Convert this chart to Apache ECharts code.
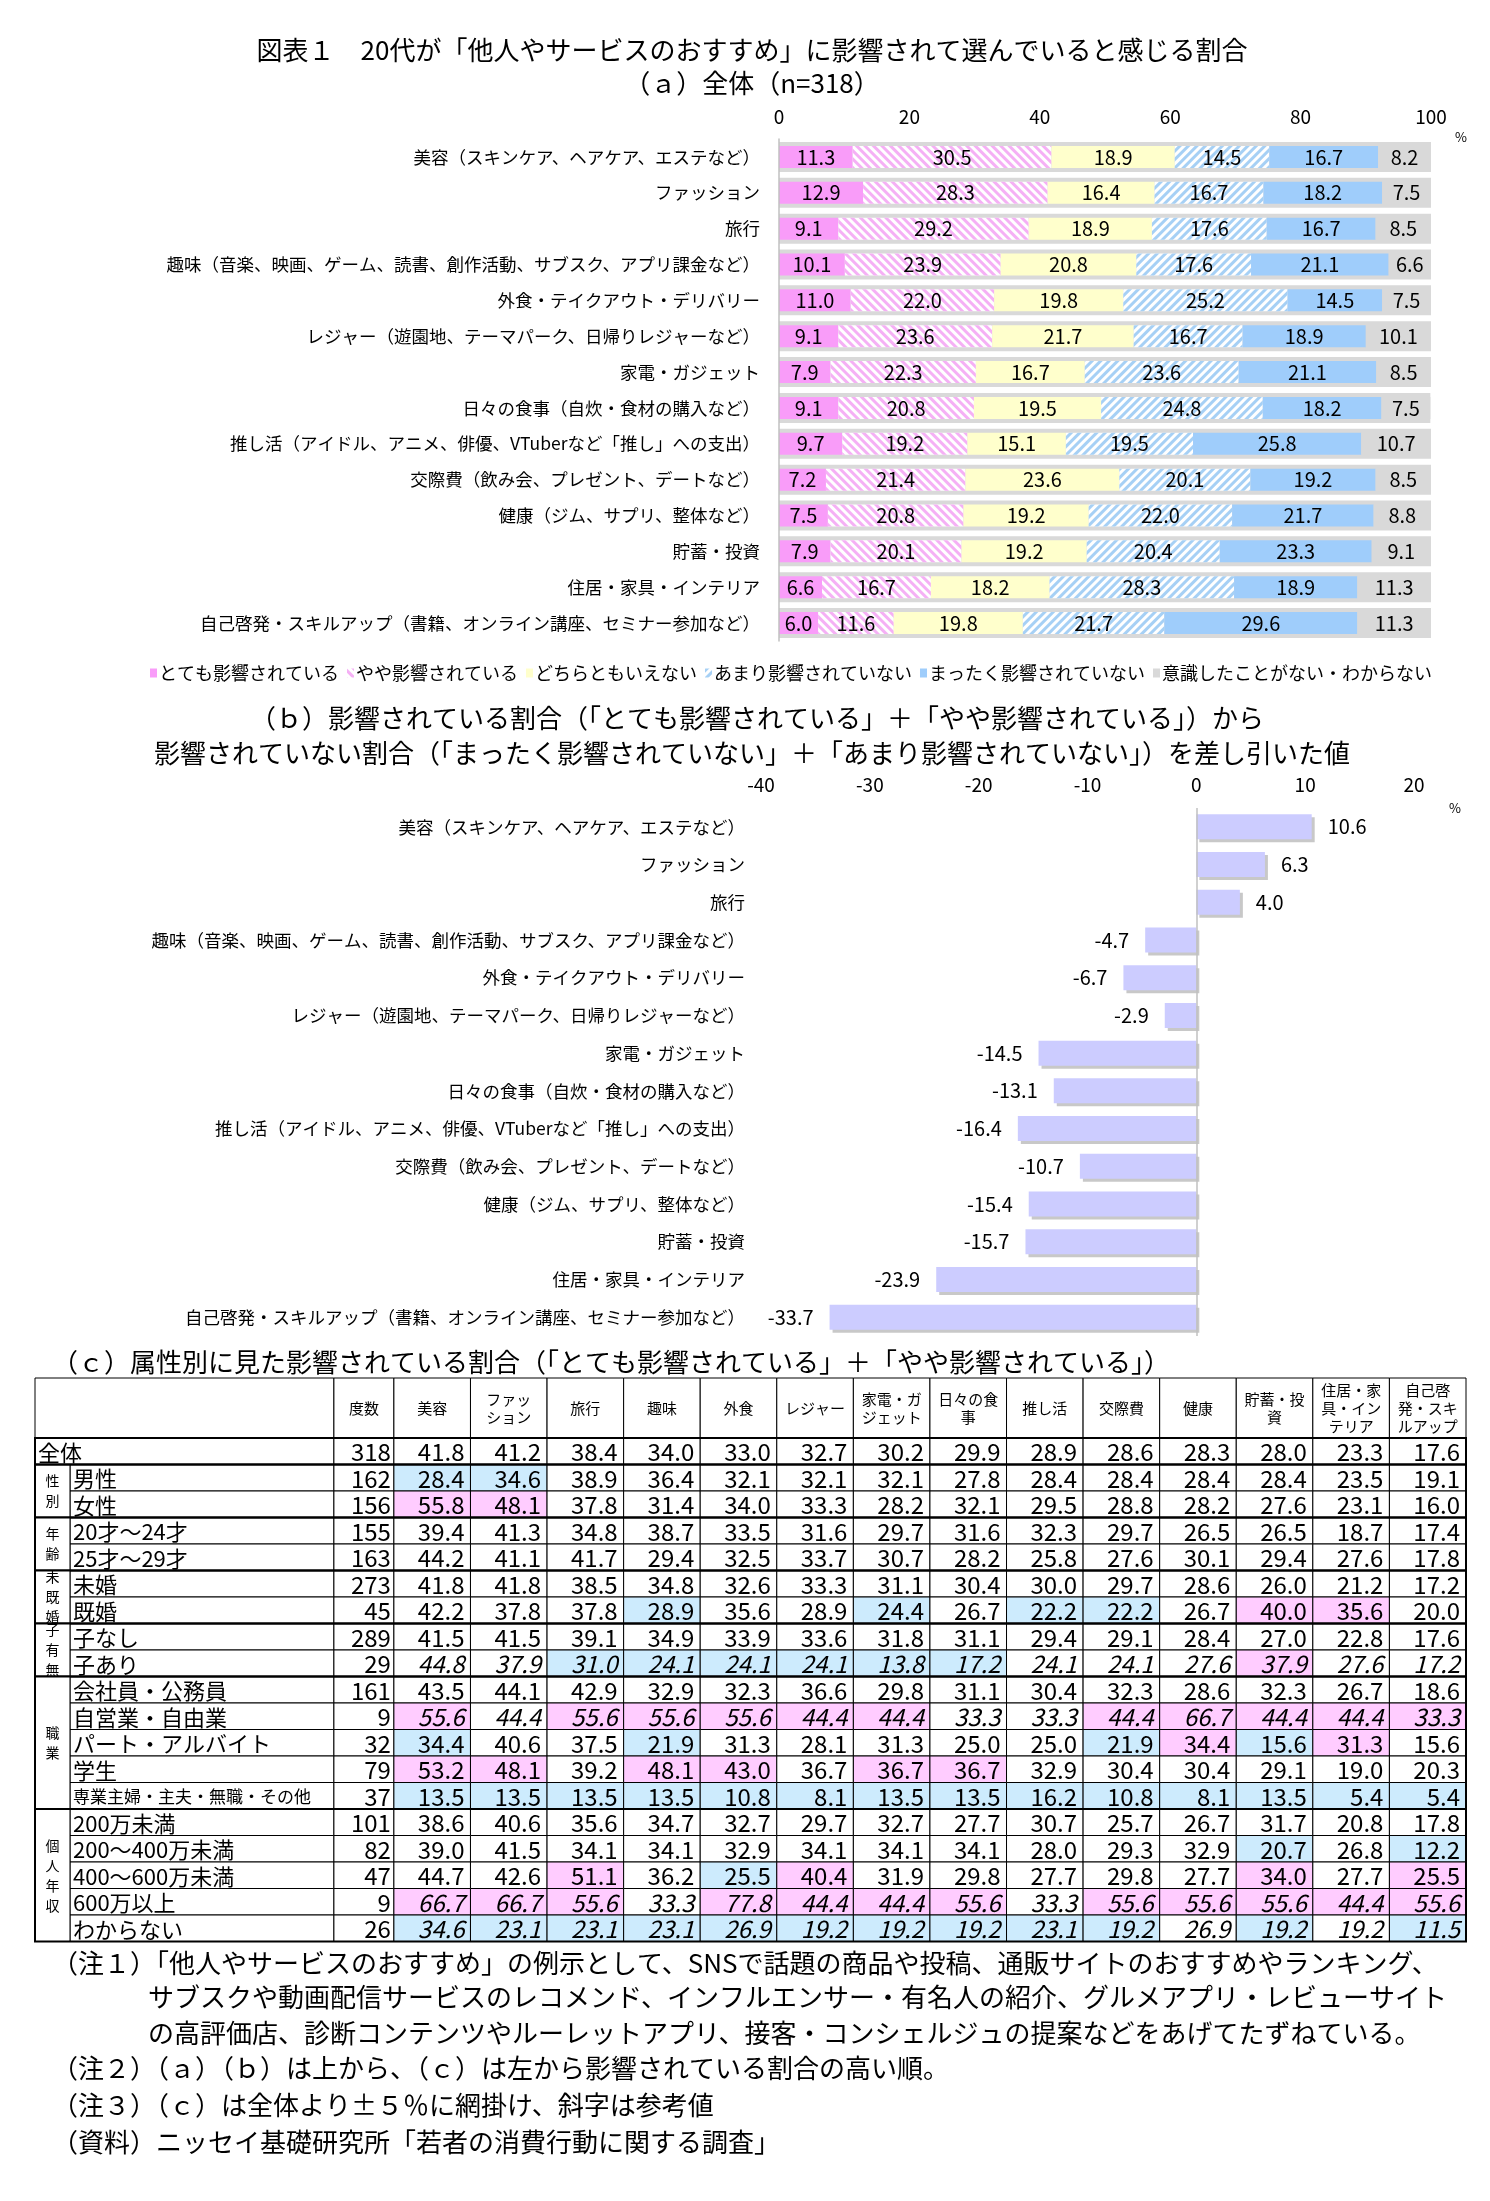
<!DOCTYPE html>
<html><head><meta charset="utf-8">
<script src="https://cdn.jsdelivr.net/npm/echarts@6/dist/echarts.min.js"></script>
<style>html,body{margin:0;padding:0;background:#fff;} #c{width:1490px;height:2201px;}</style>
</head><body><div id="c"></div>
<script>
const FONT = '"Noto Sans CJK JP", "Noto Sans", sans-serif';

// ---------- (a) data ----------
const categories = [
  '美容（スキンケア、ヘアケア、エステなど）',
  'ファッション',
  '旅行',
  '趣味（音楽、映画、ゲーム、読書、創作活動、サブスク、アプリ課金など）',
  '外食・テイクアウト・デリバリー',
  'レジャー（遊園地、テーマパーク、日帰りレジャーなど）',
  '家電・ガジェット',
  '日々の食事（自炊・食材の購入など）',
  '推し活（アイドル、アニメ、俳優、VTuberなど「推し」への支出）',
  '交際費（飲み会、プレゼント、デートなど）',
  '健康（ジム、サプリ、整体など）',
  '貯蓄・投資',
  '住居・家具・インテリア',
  '自己啓発・スキルアップ（書籍、オンライン講座、セミナー参加など）'
];
const legendNames = ['とても影響されている','やや影響されている','どちらともいえない','あまり影響されていない','まったく影響されていない','意識したことがない・わからない'];
const aVery     = [11.3, 12.9, 9.1, 10.1, 11.0, 9.1, 7.9, 9.1, 9.7, 7.2, 7.5, 7.9, 6.6, 6.0];
const aSomewhat = [30.5, 28.3, 29.2, 23.9, 22.0, 23.6, 22.3, 20.8, 19.2, 21.4, 20.8, 20.1, 16.7, 11.6];
const aNeither  = [18.9, 16.4, 18.9, 20.8, 19.8, 21.7, 16.7, 19.5, 15.1, 23.6, 19.2, 19.2, 18.2, 19.8];
const aNotMuch  = [14.5, 16.7, 17.6, 17.6, 25.2, 16.7, 23.6, 24.8, 19.5, 20.1, 22.0, 20.4, 28.3, 21.7];
const aNotAtAll = [16.7, 18.2, 16.7, 21.1, 14.5, 18.9, 21.1, 18.2, 25.8, 19.2, 21.7, 23.3, 18.9, 29.6];
const aUnknown  = [8.2, 7.5, 8.5, 6.6, 7.5, 10.1, 8.5, 7.5, 10.7, 8.5, 8.8, 9.1, 11.3, 11.3];
const aTicks = [0, 20, 40, 60, 80, 100];

// ---------- (b) data ----------
const bNet = [10.6, 6.3, 4.0, -4.7, -6.7, -2.9, -14.5, -13.1, -16.4, -10.7, -15.4, -15.7, -23.9, -33.7];
const bTicks = [-40, -30, -20, -10, 0, 10, 20];

// ---------- (c) data ----------
const tableCols = ['美容','ファッ\nション','旅行','趣味','外食','レジャー','家電・ガ\nジェット','日々の食\n事','推し活','交際費','健康','貯蓄・投\n資','住居・家\n具・イン\nテリア','自己啓\n発・スキ\nルアップ'];
const rowLabels = ['全体','男性','女性','20才～24才','25才～29才','未婚','既婚','子なし','子あり','会社員・公務員','自営業・自由業','パート・アルバイト','学生','専業主婦・主夫・無職・その他','200万未満','200～400万未満','400～600万未満','600万以上','わからない'];
const rowN = [318,162,156,155,163,273,45,289,29,161,9,32,79,37,101,82,47,9,26];
const tableValues = [
  [41.8,41.2,38.4,34.0,33.0,32.7,30.2,29.9,28.9,28.6,28.3,28.0,23.3,17.6],
  [28.4,34.6,38.9,36.4,32.1,32.1,32.1,27.8,28.4,28.4,28.4,28.4,23.5,19.1],
  [55.8,48.1,37.8,31.4,34.0,33.3,28.2,32.1,29.5,28.8,28.2,27.6,23.1,16.0],
  [39.4,41.3,34.8,38.7,33.5,31.6,29.7,31.6,32.3,29.7,26.5,26.5,18.7,17.4],
  [44.2,41.1,41.7,29.4,32.5,33.7,30.7,28.2,25.8,27.6,30.1,29.4,27.6,17.8],
  [41.8,41.8,38.5,34.8,32.6,33.3,31.1,30.4,30.0,29.7,28.6,26.0,21.2,17.2],
  [42.2,37.8,37.8,28.9,35.6,28.9,24.4,26.7,22.2,22.2,26.7,40.0,35.6,20.0],
  [41.5,41.5,39.1,34.9,33.9,33.6,31.8,31.1,29.4,29.1,28.4,27.0,22.8,17.6],
  [44.8,37.9,31.0,24.1,24.1,24.1,13.8,17.2,24.1,24.1,27.6,37.9,27.6,17.2],
  [43.5,44.1,42.9,32.9,32.3,36.6,29.8,31.1,30.4,32.3,28.6,32.3,26.7,18.6],
  [55.6,44.4,55.6,55.6,55.6,44.4,44.4,33.3,33.3,44.4,66.7,44.4,44.4,33.3],
  [34.4,40.6,37.5,21.9,31.3,28.1,31.3,25.0,25.0,21.9,34.4,15.6,31.3,15.6],
  [53.2,48.1,39.2,48.1,43.0,36.7,36.7,36.7,32.9,30.4,30.4,29.1,19.0,20.3],
  [13.5,13.5,13.5,13.5,10.8,8.1,13.5,13.5,16.2,10.8,8.1,13.5,5.4,5.4],
  [38.6,40.6,35.6,34.7,32.7,29.7,32.7,27.7,30.7,25.7,26.7,31.7,20.8,17.8],
  [39.0,41.5,34.1,34.1,32.9,34.1,34.1,34.1,28.0,29.3,32.9,20.7,26.8,12.2],
  [44.7,42.6,51.1,36.2,25.5,40.4,31.9,29.8,27.7,29.8,27.7,34.0,27.7,25.5],
  [66.7,66.7,55.6,33.3,77.8,44.4,44.4,55.6,33.3,55.6,55.6,55.6,44.4,55.6],
  [34.6,23.1,23.1,23.1,26.9,19.2,19.2,19.2,23.1,19.2,26.9,19.2,19.2,11.5]
];
const groupNames = ['性\n別','年\n齢','未\n既\n婚','子\n有\n無','職\n業','個\n人\n年\n収'];
const groupStart = [1,3,5,7,9,14];
const groupEnd   = [2,4,6,8,13,18];

// ---------- styles / layout ----------
const C_VERY = '#f99cf9', C_NEITHER = '#ffffcc', C_NOTALL = '#9fcdfb', C_UNK = '#d9d9d9';
const PINK = '#ffccff', BLUE = '#cdebfd', BAR_B = '#ccccff';
const SHADOW_B = {shadowColor: '#c8c8c8', shadowBlur: 0, shadowOffsetX: 3, shadowOffsetY: 3};
const pinkHatch = {symbol: 'rect', symbolSize: 1, color: '#f5b0f5', dashArrayX: [1, 0], dashArrayY: [3, 3], rotation: Math.PI / 4};
const blueHatch = {symbol: 'rect', symbolSize: 1, color: '#a6d0f5', dashArrayX: [1, 0], dashArrayY: [3, 3], rotation: -Math.PI / 4};

const GRID_A = {left: 779, top: 139, width: 652, height: 502};
const GROUP_U = 35 / 76.6, LABEL_U = 299 / 76.6, COUNT_U = 60 / 76.6;
const TOTAL_U = LABEL_U + COUNT_U + tableCols.length;

function cellRect(api, u0, u1, r0, r1) {
  const h = api.size([0, 1])[1];
  const p0 = api.coord([u0, r0]);
  const p1 = api.coord([u1, r1 === undefined ? r0 : r1]);
  return {x: p0[0], y: p0[1] - h / 2, width: p1[0] - p0[0], height: p1[1] - p0[1] + h};
}

// table data items
const valueData = [];
tableValues.forEach((row, r) => row.forEach((v, c) => {
  const d = v - tableValues[0][c];
  const flag = r === 0 ? 0 : (d >= 4.95 ? 1 : (d <= -4.95 ? -1 : 0));
  valueData.push([c, r, v, flag, rowN[r] < 30 ? 1 : 0]);
}));
const countData = rowN.map((n, r) => [0, r, n]);
const labelData = rowLabels.map((l, r) => [0, r]);
const groupData = groupNames.map((g, i) => [0, groupStart[i], groupEnd[i], i]);
groupData.push([0, 0, 0, -1]);
const headerData = [[-2, 0], [-1, 0]].concat(tableCols.map((t, i) => [i, 0]));

const aSeriesData = [aVery, aSomewhat, aNeither, aNotMuch, aNotAtAll, aUnknown];
const aTotals = categories.map((c, i) => aSeriesData.reduce((s, arr) => s + arr[i], 0));
const aStyles = [
  {color: C_VERY}, {color: '#ffffff', decal: pinkHatch}, {color: C_NEITHER},
  {color: '#ffffff', decal: blueHatch}, {color: C_NOTALL}, {color: C_UNK}
];

const aSeries = aSeriesData.map((arr, i) => ({
  name: legendNames[i], type: 'bar', stack: 'a', xAxisIndex: 0, yAxisIndex: 0,
  barWidth: 22, data: arr, z: 3,
  itemStyle: aStyles[i],
  label: {show: true, position: 'inside', color: '#000', fontSize: 20, fontFamily: FONT,
          formatter: p => Number(p.value).toFixed(1)},
  emphasis: {disabled: true}
}));

const txt = (text, x, y, size, align) => ({
  type: 'text', x: x, y: y, silent: true,
  style: {text: text, fill: '#000', font: size + 'px ' + FONT, align: align || 'left', verticalAlign: 'middle'}
});

const option = {
  backgroundColor: '#fff',
  animation: false,
  textStyle: {fontFamily: FONT},
  legend: {
    left: 145, top: 659, itemWidth: 7, itemHeight: 9, itemGap: 8,
    icon: 'rect', data: legendNames,
    textStyle: {fontSize: 18, color: '#000', fontFamily: FONT, padding: [0, 0, 0, -3]}
  },
  grid: [
    GRID_A,
    {left: 761, top: 808, width: 653, height: 528},
    {left: 35, top: 1378, width: 1431, height: 60},
    {left: 35, top: 1438, width: 1431, height: 503.5},
    Object.assign({}, GRID_A)
  ],
  xAxis: [
    {gridIndex: 0, type: 'value', position: 'top', min: aTicks[0], max: aTicks[aTicks.length - 1], interval: aTicks[1] - aTicks[0],
     axisLine: {show: false}, axisTick: {show: false}, splitLine: {show: false},
     axisLabel: {fontSize: 19, color: '#000', margin: 13, fontFamily: FONT}},
    {gridIndex: 1, type: 'value', position: 'top', min: bTicks[0], max: bTicks[bTicks.length - 1], interval: bTicks[1] - bTicks[0],
     axisLine: {show: false}, axisTick: {show: false}, splitLine: {show: false},
     axisLabel: {fontSize: 19, color: '#000', margin: 14, fontFamily: FONT}},
    {gridIndex: 2, type: 'value', min: 0, max: TOTAL_U, show: false},
    {gridIndex: 3, type: 'value', min: 0, max: TOTAL_U, show: false},
    {gridIndex: 4, type: 'value', min: aTicks[0], max: aTicks[aTicks.length - 1], show: false}
  ],
  yAxis: [
    {gridIndex: 0, type: 'category', data: categories, inverse: true, z: 4,
     axisLine: {lineStyle: {color: '#c0c0c0', width: 1.5}}, axisTick: {show: false},
     axisLabel: {fontSize: 17.5, color: '#000', margin: 19, fontFamily: FONT}},
    {gridIndex: 1, type: 'category', data: categories, inverse: true,
     axisLine: {show: false, onZero: false}, axisTick: {show: false},
     axisLabel: {fontSize: 17.5, color: '#000', margin: 16, fontFamily: FONT}},
    {gridIndex: 2, type: 'category', data: ['h'], show: false},
    {gridIndex: 3, type: 'category', data: rowLabels, inverse: true, show: false},
    {gridIndex: 4, type: 'category', data: categories, inverse: true, show: false}
  ],
  series: [
    {
      name: 'bg', type: 'bar', xAxisIndex: 4, yAxisIndex: 4, barWidth: 30, z: 1,
      data: aTotals, itemStyle: {color: C_UNK}, silent: true, emphasis: {disabled: true}
    }
  ].concat(aSeries).concat([
    {
      name: 'net', type: 'bar', xAxisIndex: 1, yAxisIndex: 1, barWidth: 25,
      data: bNet.map(v => ({value: v, label: {position: v >= 0 ? 'right' : 'left'}})),
      itemStyle: Object.assign({color: BAR_B}, SHADOW_B),
      label: {show: true, color: '#000', fontSize: 20, distance: 16, fontFamily: FONT,
              formatter: p => Number(p.value).toFixed(1)},
      emphasis: {disabled: true},
      markLine: {silent: true, symbol: ['none', 'none'], label: {show: false},
                 lineStyle: {color: '#c0c0c0', width: 1.5, type: 'solid'}, data: [{xAxis: 0}]}
    },
    {
      name: 'header', type: 'custom', xAxisIndex: 2, yAxisIndex: 2, data: headerData, encode: {x: 0, y: 1},
      renderItem: (params, api) => {
        const i = api.value(0);
        let u0, u1, t;
        if (i === -2) { u0 = 0; u1 = LABEL_U; t = ''; }
        else if (i === -1) { u0 = LABEL_U; u1 = LABEL_U + COUNT_U; t = '度数'; }
        else { u0 = LABEL_U + COUNT_U + i; u1 = u0 + 1; t = tableCols[i]; }
        const r = cellRect(api, u0, u1, 0);
        return {type: 'group', children: [
          {type: 'rect', shape: r, style: {fill: '#fff', stroke: '#000', lineWidth: 1}},
          {type: 'text', x: r.x + r.width / 2, y: r.y + r.height / 2,
           style: {text: t, fill: '#000', font: '15px ' + FONT, align: 'center', verticalAlign: 'middle', lineHeight: 18}}
        ]};
      }
    },
    {
      name: 'labels', type: 'custom', xAxisIndex: 3, yAxisIndex: 3, data: labelData, encode: {x: 0, y: 1},
      renderItem: (params, api) => {
        const row = api.value(1);
        const u0 = row === 0 ? 0 : GROUP_U;
        const r = cellRect(api, u0, LABEL_U, row);
        const lab = rowLabels[row];
        const fs = lab.length > 10 ? 17 : 22;
        return {type: 'group', children: [
          {type: 'rect', shape: r, style: {fill: '#fff', stroke: '#000', lineWidth: 1}},
          {type: 'text', x: r.x + 3, y: r.y + r.height / 2 + 1,
           style: {text: lab, fill: '#000', font: fs + 'px ' + FONT, align: 'left', verticalAlign: 'middle'}}
        ]};
      }
    },
    {
      name: 'counts', type: 'custom', xAxisIndex: 3, yAxisIndex: 3, data: countData, encode: {x: 0, y: 1},
      renderItem: (params, api) => {
        const row = api.value(1);
        const r = cellRect(api, LABEL_U, LABEL_U + COUNT_U, row);
        return {type: 'group', children: [
          {type: 'rect', shape: r, style: {fill: '#fff', stroke: '#000', lineWidth: 1}},
          {type: 'text', x: r.x + r.width - 3, y: r.y + r.height / 2 + 1,
           style: {text: String(api.value(2)), fill: '#000', font: '24px ' + FONT, align: 'right', verticalAlign: 'middle'}}
        ]};
      }
    },
    {
      name: 'values', type: 'custom', xAxisIndex: 3, yAxisIndex: 3, data: valueData, encode: {x: 0, y: 1},
      renderItem: (params, api) => {
        const col = api.value(0), row = api.value(1), v = api.value(2), flag = api.value(3), it = api.value(4);
        const u0 = LABEL_U + COUNT_U + col;
        const r = cellRect(api, u0, u0 + 1, row);
        return {type: 'group', children: [
          {type: 'rect', shape: r, style: {fill: flag > 0 ? PINK : (flag < 0 ? BLUE : '#fff'), stroke: '#000', lineWidth: 1}},
          {type: 'text', x: r.x + r.width - 6, y: r.y + r.height / 2 + 1,
           style: {text: Number(v).toFixed(1), fill: '#000', font: (it ? 'italic ' : '') + '24px ' + FONT, align: 'right', verticalAlign: 'middle'}}
        ]};
      }
    },
    {
      name: 'groups', type: 'custom', xAxisIndex: 3, yAxisIndex: 3, data: groupData, encode: {x: 0, y: 1}, z: 5,
      renderItem: (params, api) => {
        const s = api.value(1), e = api.value(2), gi = api.value(3);
        const children = [];
        if (gi >= 0) {
          const r = cellRect(api, 0, GROUP_U, s, e);
          children.push({type: 'rect', shape: r, style: {fill: '#fff', stroke: '#000', lineWidth: 1}});
          children.push({type: 'text', x: r.x + r.width / 2, y: r.y + r.height / 2,
            style: {text: groupNames[gi], fill: '#000', font: '14px ' + FONT, align: 'center', verticalAlign: 'middle', lineHeight: 20}});
        }
        const f = cellRect(api, 0, TOTAL_U, s, e);
        children.push({type: 'rect', shape: f, style: {fill: 'none', stroke: '#000', lineWidth: 2}});
        return {type: 'group', children: children};
      }
    }
  ]),
  graphic: [
    txt('図表１　20代が「他人やサービスのおすすめ」に影響されて選んでいると感じる割合', 752, 50, 26, 'center'),
    txt('（ａ）全体（n=318）', 752, 83, 26, 'center'),
    txt('%', 1461, 137, 13, 'center'),
    txt('（ｂ）影響されている割合（「とても影響されている」＋「やや影響されている」）から', 757, 718, 26, 'center'),
    txt('影響されていない割合（「まったく影響されていない」＋「あまり影響されていない」）を差し引いた値', 752, 753, 26, 'center'),
    txt('%', 1455, 808, 13, 'center'),
    txt('（ｃ）属性別に見た影響されている割合（「とても影響されている」＋「やや影響されている」）', 52, 1362, 26, 'left'),
    txt('（注１）「他人やサービスのおすすめ」の例示として、SNSで話題の商品や投稿、通販サイトのおすすめやランキング、', 52, 1963, 26, 'left'),
    txt('サブスクや動画配信サービスのレコメンド、インフルエンサー・有名人の紹介、グルメアプリ・レビューサイト', 148, 1997, 26, 'left'),
    txt('の高評価店、診断コンテンツやルーレットアプリ、接客・コンシェルジュの提案などをあげてたずねている。', 148, 2033, 26, 'left'),
    txt('（注２）（ａ）（ｂ）は上から、（ｃ）は左から影響されている割合の高い順。', 52, 2068, 26, 'left'),
    txt('（注３）（ｃ）は全体より±５％に網掛け、斜字は参考値', 52, 2105, 26, 'left'),
    txt('（資料）ニッセイ基礎研究所「若者の消費行動に関する調査」', 52, 2142, 26, 'left')
  ]
};

const chart = echarts.init(document.getElementById('c'), null, {renderer: 'canvas', width: 1490, height: 2201});
chart.setOption(option);
</script>
</body></html>
